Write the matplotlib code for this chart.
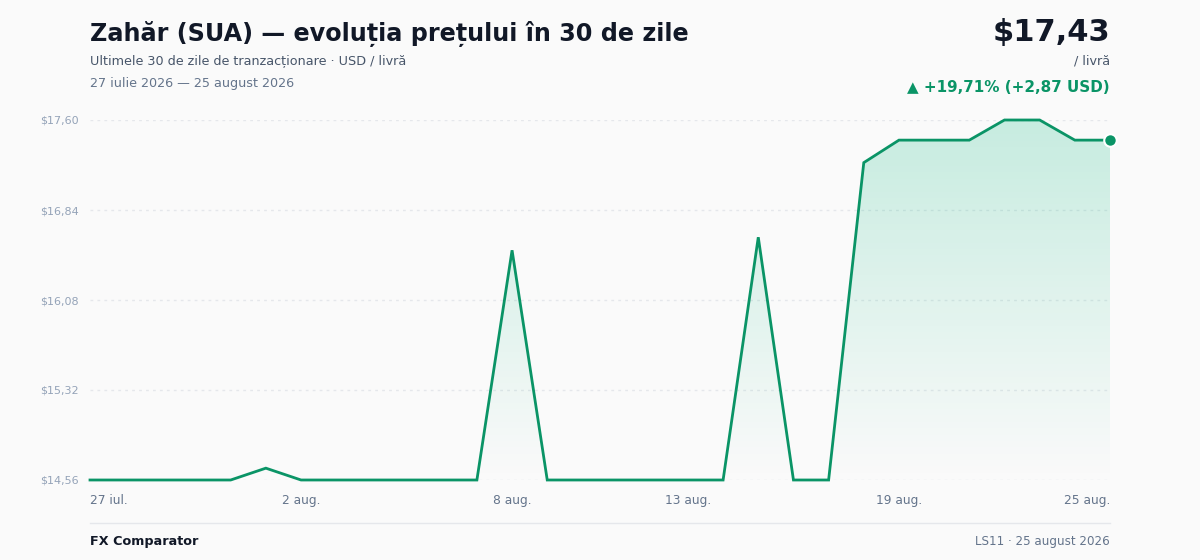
import matplotlib
matplotlib.use("Agg")
import matplotlib.pyplot as plt
import numpy as np
from matplotlib.colors import LinearSegmentedColormap
from matplotlib.patches import Polygon

# ---- data ----
dates = ["27 iul.", "28 iul.", "29 iul.", "30 iul.", "31 iul.",
         "1 aug.", "2 aug.", "3 aug.", "4 aug.", "5 aug.", "6 aug.",
         "7 aug.", "8 aug.", "9 aug.", "10 aug.", "11 aug.", "12 aug.",
         "13 aug.", "14 aug.", "15 aug.", "16 aug.", "17 aug.", "18 aug.",
         "19 aug.", "20 aug.", "21 aug.", "22 aug.", "23 aug.", "24 aug.",
         "25 aug."]
prices = [14.56, 14.56, 14.56, 14.56, 14.56, 14.66, 14.56, 14.56, 14.56,
          14.56, 14.56, 14.56, 16.50, 14.56, 14.56, 14.56, 14.56, 14.56,
          14.56, 16.61, 14.56, 14.56, 17.24, 17.43, 17.43, 17.43, 17.60,
          17.60, 17.43, 17.43]
y_ticks = [14.56, 15.32, 16.08, 16.84, 17.60]
x_tick_idx = [0, 6, 12, 17, 23, 29]

W, H = 1200, 560
BG = "#fafafa"
GREEN = "#0a9466"
DARK = "#111827"
GRAY = "#64748b"


def px(x, y):
    return x / W, 1 - y / H


fig = plt.figure(figsize=(12, 5.6), dpi=100, facecolor=BG)
ax = fig.add_axes([90 / W, 1 - 480 / H, 1020 / W, 360 / H])
ax.set_facecolor(BG)

x = np.arange(len(prices))
ymin, ymax = y_ticks[0], y_ticks[-1]
ax.set_xlim(0, len(prices) - 1)
ax.set_ylim(ymin, ymax)

# gradient fill under line
cmap = LinearSegmentedColormap.from_list(
    "g", [(0.06, 0.73, 0.51, 0.0), (0.06, 0.73, 0.51, 0.22)])
grad = np.linspace(0, 1, 256).reshape(-1, 1)
img = ax.imshow(grad, aspect="auto", cmap=cmap, origin="lower",
                extent=[0, len(prices) - 1, ymin, ymax], zorder=1)
verts = [(0, ymin)] + list(zip(x, prices)) + [(len(prices) - 1, ymin)]
poly = Polygon(verts, closed=True, facecolor="none", edgecolor="none")
ax.add_patch(poly)
img.set_clip_path(poly)

for t in y_ticks:
    ax.axhline(t, color="#e5e7eb", lw=1, ls=(0, (2, 3)), zorder=0)

ax.plot(x, prices, color=GREEN, lw=2, zorder=3, clip_on=False,
        solid_joinstyle="miter")
ax.plot(x[-1], prices[-1], "o", ms=9, color=GREEN, mec="white", mew=1.5,
        zorder=4, clip_on=False)

for s in ax.spines.values():
    s.set_visible(False)
ax.set_yticks(y_ticks)
ax.set_yticklabels(["$" + f"{t:.2f}".replace(".", ",") for t in y_ticks],
                   fontsize=8, color="#94a3b8")
ax.tick_params(axis="y", length=0, pad=8)
ax.set_xticks(x_tick_idx)
ax.set_xticklabels([dates[i] for i in x_tick_idx], fontsize=8.8, color=GRAY)
ax.tick_params(axis="x", length=0, pad=10)
labels = ax.get_xticklabels()
labels[0].set_ha("left")
labels[-1].set_ha("right")

# header
fig.text(*px(90, 34), "Zahăr (SUA) — evoluția prețului în 30 de zile",
         fontsize=17.2, fontweight="bold", color=DARK, va="center")
fig.text(*px(90, 61), "Ultimele 30 de zile de tranzacționare · USD / livră",
         fontsize=9.2, color="#475569", va="center")
fig.text(*px(90, 83), "27 iulie 2026 — 25 august 2026",
         fontsize=9.2, color=GRAY, va="center")
fig.text(*px(1110, 33), "$17,43", fontsize=22, fontweight="bold",
         color=DARK, va="center", ha="right")
fig.text(*px(1110, 61), "/ livră", fontsize=9.2, color="#475569",
         va="center", ha="right")
fig.text(*px(1110, 87), "▲ +19,71% (+2,87 USD)", fontsize=10.9,
         fontweight="bold", color=GREEN, va="center", ha="right")

# footer
fig.add_artist(plt.Line2D([90 / W, 1110 / W], [1 - 523 / H, 1 - 523 / H],
                          color="#e5e7eb", lw=1))
fig.text(*px(90, 541), "FX Comparator", fontsize=9.2, fontweight="bold",
         color=DARK, va="center")
fig.text(*px(1110, 541), "LS11 · 25 august 2026", fontsize=8.6,
         color=GRAY, va="center", ha="right")

fig.savefig("out.png", dpi=100, facecolor=BG)
